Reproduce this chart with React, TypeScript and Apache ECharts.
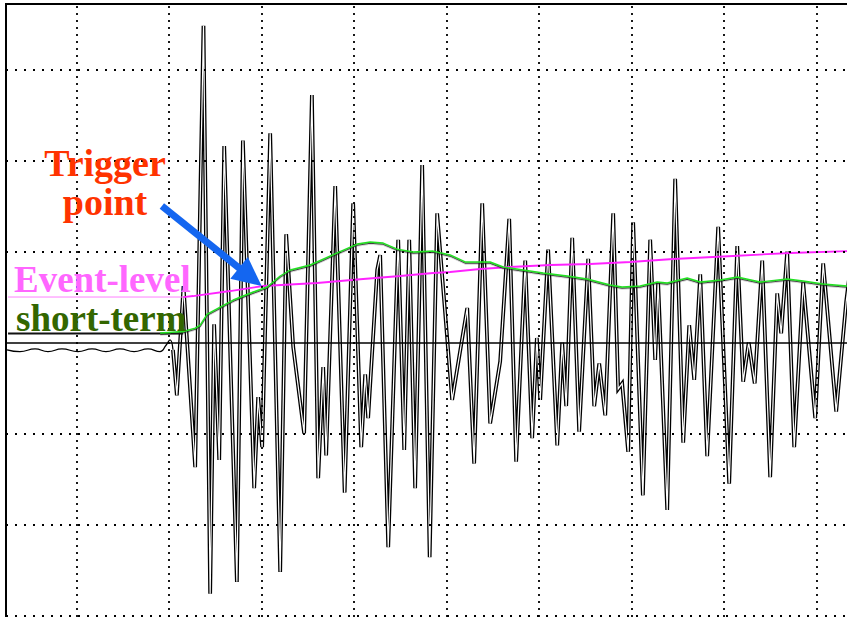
import React, { useEffect, useRef } from "react";
import * as echarts from "echarts";

// Axis frame (grid units: one dotted division = 1)
const xMin = 0.236;
const xMax = 9.533;
const yMin = -3.247;
const yMax = 3.72;
const gridXTicks = [1, 2, 3, 4, 5, 6, 7, 8, 9];
const gridYTicks = [-3, -2, -1, 1, 2, 3];

// Pre-event background noise
const quietTime = [0.247, 0.387, 0.55, 0.69, 0.841, 1.014, 1.166, 1.317, 1.468, 1.62, 1.771, 1.901, 1.966, 2.009, 2.041];
const quietAmp = [-0.08, -0.1, -0.07, -0.1, -0.07, -0.1, -0.07, -0.1, -0.07, -0.1, -0.07, -0.1, -0.03, 0.03, -0.08];

// Seismic event waveform (extrema)
const eventTime = [2.041, 2.083, 2.155, 2.281, 2.371, 2.443, 2.486, 2.541, 2.595, 2.732, 2.797, 2.919, 2.962, 3.005, 3.092, 3.2, 3.265, 3.341, 3.459, 3.543, 3.611, 3.665, 3.697, 3.795, 3.897, 3.989, 4.076, 4.119, 4.151, 4.249, 4.281, 4.368, 4.476, 4.541, 4.595, 4.659, 4.735, 4.816, 4.897, 5.059, 5.222, 5.297, 5.384, 5.47, 5.578, 5.676, 5.751, 5.849, 5.924, 5.975, 6.011, 6.097, 6.195, 6.249, 6.292, 6.357, 6.432, 6.53, 6.595, 6.649, 6.714, 6.8, 6.854, 6.897, 6.962, 7.016, 7.121, 7.2, 7.254, 7.286, 7.384, 7.47, 7.557, 7.622, 7.676, 7.741, 7.816, 7.935, 8.054, 8.141, 8.205, 8.265, 8.33, 8.411, 8.497, 8.573, 8.616, 8.681, 8.757, 8.854, 8.984, 9.07, 9.211, 9.319, 9.362];
const eventAmp = [-0.08, -0.58, 0.62, -1.37, 3.48, -2.76, 0.2, -1.29, 2.16, -2.63, 2.22, -1.6, -0.6, -1.15, 2.3, -2.52, 1.19, -0.05, -1.0, 2.72, -1.49, -0.27, -1.24, 1.72, -1.65, 1.53, -1.15, -0.35, -0.83, 0.8, 0.96, -2.25, 1.13, -1.18, 1.13, -1.6, 1.95, -2.36, 1.42, -0.63, 0.38, -1.33, 1.53, -0.89, -0.21, 1.36, -1.31, 0.9, -1.05, 0.05, -0.63, 1.02, -1.13, 0.0, -0.7, 1.15, -0.98, 0.92, -0.7, -0.23, -0.8, 1.42, -0.51, -0.45, -1.2, 1.32, -1.68, 1.13, -0.19, 0.66, -1.84, 1.8, -1.1, 0.19, -0.41, 0.75, -1.25, 1.27, -1.55, 1.06, -0.43, 0.0, -0.45, 0.9, -1.48, 0.54, 0.1, 1.0, -1.15, 0.66, -0.83, 0.87, -0.76, 0.45, 0.8];

// Short-term average (before event: flat baseline)
const shortBaseTime = [0.258, 2.151];
const shortBaseLevel = [0.099, 0.099];
const shortTime = [1.903, 2.151, 2.281, 2.335, 2.411, 2.551, 2.692, 2.908, 3.059, 3.2, 3.308, 3.524, 3.816, 4.032, 4.173, 4.314, 4.465, 4.638, 4.854, 5.038, 5.2, 5.47, 5.611, 5.827, 6.043, 6.303, 6.519, 6.768, 6.897, 7.092, 7.276, 7.384, 7.6, 7.741, 7.957, 8.141, 8.389, 8.681, 8.854, 9.07, 9.33, 9.47];
const shortLevel = [0.104, 0.121, 0.159, 0.192, 0.313, 0.39, 0.467, 0.555, 0.61, 0.731, 0.797, 0.852, 0.984, 1.082, 1.104, 1.093, 1.027, 0.995, 1.005, 0.962, 0.885, 0.885, 0.83, 0.797, 0.764, 0.731, 0.698, 0.632, 0.61, 0.621, 0.665, 0.654, 0.709, 0.665, 0.687, 0.72, 0.665, 0.698, 0.676, 0.643, 0.621, 0.621];

// Event level threshold
const eventBaseTime = [0.258, 2.151];
const eventBaseLevel = [0.5, 0.5];
const eventLevelTime = [2.151, 2.259, 2.659, 3.016, 3.6, 4.097, 4.497, 4.854, 5.038, 5.362, 5.686, 6.119, 6.551, 6.984, 7.449, 8.097, 8.714, 9.33, 9.47];
const eventLevel = [0.5, 0.511, 0.566, 0.621, 0.654, 0.698, 0.731, 0.764, 0.775, 0.808, 0.83, 0.852, 0.863, 0.885, 0.918, 0.951, 0.984, 1.005, 1.005];

const triggerPoint = [3.0, 0.62];
const arrowStart = [1.921, 1.5];

const zip = (a: number[], b: number[]) => a.map((v, i) => [v, b[i]]);

export default function App() {
  const ref = useRef<HTMLDivElement>(null);
  useEffect(() => {
    if (!ref.current) return;
    const chart = echarts.init(ref.current, undefined, { renderer: "svg" });
    const serif = '"Liberation Serif", "Times New Roman", serif';
    const dotH = { color: "#000", width: 1.8, type: [2, 7] as any };
    const dotV = { color: "#000", width: 1.8, type: [2, 5] as any };
    const eventData = zip(eventTime, eventAmp);
    chart.setOption({
      animation: false,
      backgroundColor: "#fff",
      grid: { left: 6, top: 4, width: 860, height: 634, show: true, borderColor: "#000", borderWidth: 2, backgroundColor: "transparent" },
      xAxis: { type: "value", min: xMin, max: xMax, axisLine: { show: false }, axisTick: { show: false }, axisLabel: { show: false }, splitLine: { show: false } },
      yAxis: { type: "value", min: yMin, max: yMax, axisLine: { show: false }, axisTick: { show: false }, axisLabel: { show: false }, splitLine: { show: false } },
      series: [
        {
          type: "line",
          data: [[xMin, 0]],
          showSymbol: false,
          lineStyle: { opacity: 0 },
          z: 1,
          markLine: {
            silent: true,
            symbol: "none",
            label: { show: false },
            data: [
              ...gridXTicks.map((v) => ({ xAxis: v, lineStyle: dotV })),
              ...gridYTicks.map((v) => ({ yAxis: v, lineStyle: dotH })),
            ],
          },
        },
        {
          type: "line",
          data: zip(quietTime, quietAmp),
          showSymbol: false,
          smooth: 0.5,
          lineStyle: { color: "#000", width: 1.3 },
          z: 2,
        },
        {
          type: "line",
          data: eventData,
          showSymbol: false,
          lineStyle: { color: "#000", width: 3.8, join: "miter" },
          z: 2,
        },
        {
          type: "line",
          data: eventData,
          showSymbol: false,
          lineStyle: { color: "#fff", width: 1.2, join: "miter" },
          z: 2,
        },
        {
          type: "line",
          data: [[xMin, 0]],
          showSymbol: false,
          lineStyle: { opacity: 0 },
          z: 3,
          markLine: {
            silent: true,
            symbol: "none",
            label: { show: false },
            data: [{ yAxis: 0, lineStyle: { color: "#000", width: 1.6, type: "solid" } }],
          },
        },
        {
          type: "line",
          data: zip(eventBaseTime, eventBaseLevel),
          showSymbol: false,
          lineStyle: { color: "#ff80ff", width: 1 },
          z: 4,
        },
        {
          type: "line",
          data: zip(eventLevelTime, eventLevel),
          showSymbol: false,
          lineStyle: { color: "#ff22ff", width: 1.8 },
          z: 4,
        },
        {
          type: "line",
          data: zip(shortBaseTime, shortBaseLevel),
          showSymbol: false,
          lineStyle: { color: "#111", width: 2 },
          z: 5,
        },
        {
          type: "line",
          data: zip(shortTime, shortLevel),
          showSymbol: false,
          lineStyle: { color: "#22e022", width: 1.4, shadowColor: "rgba(30,30,30,0.9)", shadowOffsetY: 1.2, shadowBlur: 0 },
          z: 6,
        },
      ],
    });

    const p0 = chart.convertToPixel({ gridIndex: 0 }, arrowStart) as number[];
    const p1 = chart.convertToPixel({ gridIndex: 0 }, triggerPoint) as number[];
    const dx = p1[0] - p0[0];
    const dy = p1[1] - p0[1];
    const len = Math.sqrt(dx * dx + dy * dy);
    const ux = dx / len;
    const uy = dy / len;
    const headLen = 29;
    const headHalf = 14;
    const bx = p1[0] - ux * headLen;
    const by = p1[1] - uy * headLen;
    const blue = "#1466f0";

    chart.setOption({
      graphic: [
        { type: "line", z: 100, shape: { x1: p0[0], y1: p0[1], x2: bx + ux * 2, y2: by + uy * 2 }, style: { stroke: blue, lineWidth: 7, lineCap: "butt" } },
        {
          type: "polygon",
          z: 100,
          shape: { points: [[p1[0], p1[1]], [bx - uy * headHalf, by + ux * headHalf], [bx + uy * headHalf, by - ux * headHalf]] },
          style: { fill: blue },
        },
        { type: "text", z: 101, style: { text: "Trigger", x: 105, y: 163, fill: "#ff3300", font: `bold 38px ${serif}`, textAlign: "center", textVerticalAlign: "middle" } },
        { type: "text", z: 101, style: { text: "point", x: 105, y: 202, fill: "#ff3300", font: `bold 38px ${serif}`, textAlign: "center", textVerticalAlign: "middle" } },
        { type: "text", z: 101, style: { text: "Event-level", x: 14, y: 279, fill: "#ff66ff", font: `bold 37px ${serif}`, textAlign: "left", textVerticalAlign: "middle" } },
        { type: "text", z: 101, style: { text: "short-term", x: 16, y: 318, fill: "#336600", font: `bold 37px ${serif}`, textAlign: "left", textVerticalAlign: "middle" } },
      ],
    });

    return () => chart.dispose();
  }, []);
  return <div ref={ref} style={{ position: "fixed", left: 0, top: 0, width: 870, height: 640 }} />;
}
